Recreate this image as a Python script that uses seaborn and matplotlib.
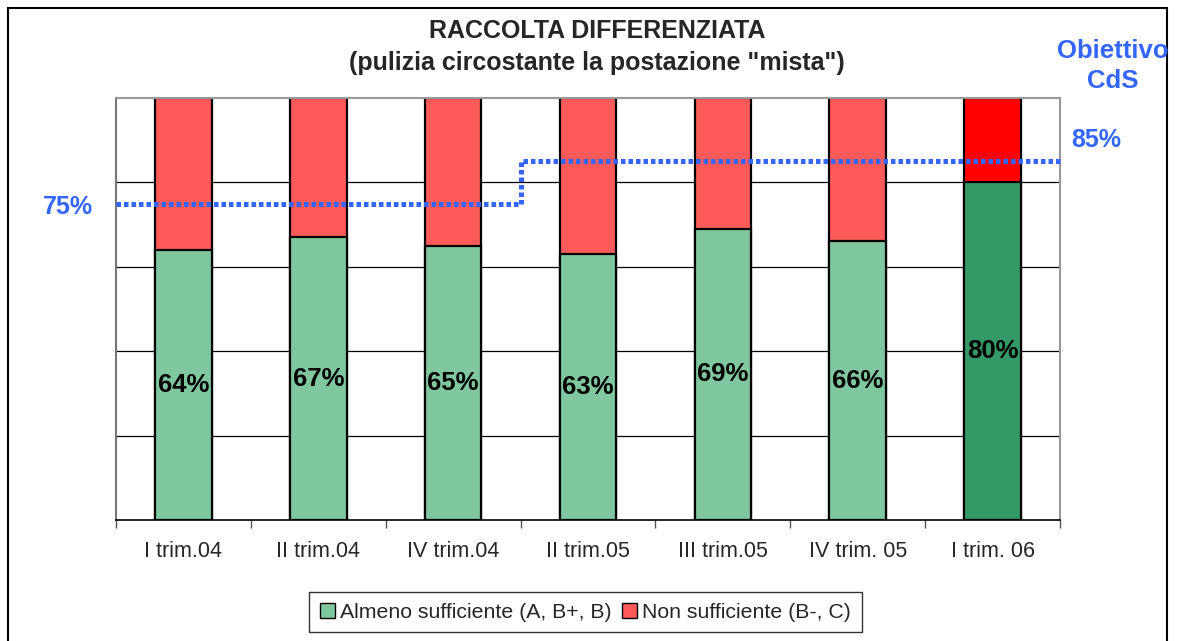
import numpy as np
import pandas as pd
import matplotlib
matplotlib.use('Agg')
import matplotlib.pyplot as plt
import matplotlib.patches as mpatches
import seaborn as sns

# --- data ---
quarters = ['I trim.04', 'II trim.04', 'IV trim.04', 'II trim.05',
            'III trim.05', 'IV trim. 05', 'I trim. 06']
sufficient = [64, 67, 65, 63, 69, 66, 80]
total = [100, 100, 100, 100, 100, 100, 100]
target = [75, 75, 75, 85, 85, 85, 85]

green_light = '#7FC79F'
green_dark = '#339966'
red_light = '#FF5A5A'
red_dark = '#FF0000'
blue = '#3366FF'

green_cols = [green_light] * 6 + [green_dark]
red_cols = [red_light] * 6 + [red_dark]

df = pd.DataFrame({'quarter': quarters, 'sufficient': sufficient, 'total': total})

sns.set_style('white')
plt.rcParams['font.family'] = ['Liberation Sans', 'DejaVu Sans']

fig = plt.figure(figsize=(11.78, 6.41), dpi=100)
ax = fig.add_axes([0.0985, 0.1888, 0.8013, 0.6583])

# red part = full bar, green drawn on top
sns.barplot(data=df, x='quarter', y='total', hue='quarter', palette=red_cols, saturation=1,
            width=0.42, edgecolor='black', linewidth=1.6, legend=False, ax=ax, zorder=2)
sns.barplot(data=df, x='quarter', y='sufficient', hue='quarter', palette=green_cols, saturation=1,
            width=0.42, edgecolor='black', linewidth=1.6, legend=False, ax=ax, zorder=3)

# percentage labels in the middle of the green part
for i, v in enumerate(sufficient):
    ax.text(i, v / 2, f'{v}%', ha='center', va='center', fontsize=18.5,
            fontweight='bold', color='black', zorder=5)

# target line (stepped, dotted)
ax.stairs(target, np.arange(-0.5, len(target)), baseline=None, color=blue,
          linewidth=3.6, linestyle=(0, (0.9, 0.6)), zorder=6, clip_on=False)

ax.set_xlim(-0.5, 6.5)
ax.set_ylim(0, 100)
ax.set_yticks([])
for y in [20, 40, 60, 80]:
    ax.axhline(y, color='black', linewidth=0.9, zorder=1)

ax.set_xlabel('')
ax.set_ylabel('')
ax.set_xticks(range(len(quarters)))
ax.set_xticklabels(quarters, fontsize=15.5)
ax.tick_params(axis='x', length=0, pad=15)
# category boundary ticks
ax.set_xticks(np.arange(-0.5, 7), minor=True)
ax.tick_params(axis='x', which='minor', length=6, width=1, color='#555555', direction='out')
ax.xaxis.set_tick_params(which='minor', bottom=True)

for s in ['top', 'right']:
    ax.spines[s].set_color('#999999')
    ax.spines[s].set_linewidth(1.5)
ax.spines['left'].set_color('#777777')
ax.spines['left'].set_linewidth(1.5)
ax.spines['bottom'].set_color('black')
ax.spines['bottom'].set_linewidth(1.2)

# titles and target annotations
fig.text(0.507, 0.951, 'RACCOLTA DIFFERENZIATA', ha='center', va='center',
         fontsize=18, fontweight='bold')
fig.text(0.507, 0.902, '(pulizia circostante la postazione "mista")', ha='center',
         va='center', fontsize=18, fontweight='bold')
fig.text(0.058, 0.677, '75%', ha='center', va='center', fontsize=18,
         fontweight='bold', color=blue)
fig.text(0.931, 0.781, '85%', ha='center', va='center', fontsize=18,
         fontweight='bold', color=blue)
fig.text(0.945, 0.897, 'Obiettivo\nCdS', ha='center', va='center', fontsize=18.5,
         fontweight='bold', color=blue, linespacing=1.3)

# legend
handles = [mpatches.Patch(facecolor=green_light, edgecolor='black', label='Almeno sufficiente (A, B+, B)'),
           mpatches.Patch(facecolor=red_light, edgecolor='black', label='Non sufficiente (B-, C)')]
fig.legend(handles=handles, loc='center', bbox_to_anchor=(0.497, 0.045), ncol=2,
           frameon=True, fancybox=False, edgecolor='black', fontsize=15.3,
           handlelength=0.7, handleheight=0.7, handletextpad=0.25, columnspacing=0.5,
           borderpad=0.5)

# outer chart border
fig.patches.append(mpatches.Rectangle((8 / 1178, -0.1), (1167 - 8) / 1178, 1.1 - 8 / 641,
                                      transform=fig.transFigure, fill=False,
                                      edgecolor='black', linewidth=1.5))

fig.savefig('out.png', dpi=100)
